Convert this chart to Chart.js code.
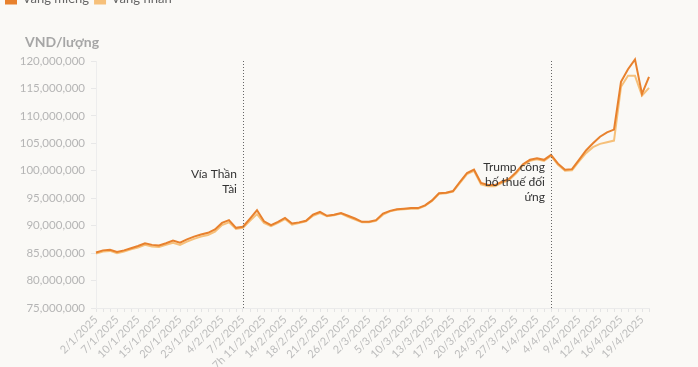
<!DOCTYPE html>
<html>
<head>
<meta charset="utf-8">
<script src="https://cdn.jsdelivr.net/npm/chart.js@4"></script>
<style>
html,body{margin:0;padding:0;background:#faf9f6;overflow:hidden}
#wrap{position:relative;width:698px;height:381px;margin-top:-14px}
</style>
</head>
<body>
<div id="wrap"><canvas id="gold"></canvas></div>
<script>
// ngày giao dịch (nhãn trục x)
var dates = ['2/1/2025','3/1/2025','6/1/2025','7/1/2025','8/1/2025','9/1/2025','10/1/2025','13/1/2025','14/1/2025','15/1/2025',
  '16/1/2025','17/1/2025','20/1/2025','21/1/2025','22/1/2025','23/1/2025','24/1/2025','3/2/2025','4/2/2025','5/2/2025',
  '6/2/2025','7/2/2025','8/2/2025','10/2/2025','7h 11/2/2025','12/2/2025','13/2/2025','14/2/2025','15/2/2025','17/2/2025',
  '18/2/2025','19/2/2025','20/2/2025','21/2/2025','24/2/2025','25/2/2025','26/2/2025','27/2/2025','28/2/2025','2/3/2025',
  '3/3/2025','4/3/2025','5/3/2025','6/3/2025','7/3/2025','10/3/2025','11/3/2025','12/3/2025','13/3/2025','14/3/2025',
  '15/3/2025','17/3/2025','18/3/2025','19/3/2025','20/3/2025','21/3/2025','22/3/2025','24/3/2025','25/3/2025','26/3/2025',
  '27/3/2025','28/3/2025','31/3/2025','1/4/2025','2/4/2025','3/4/2025','4/4/2025','5/4/2025','8/4/2025','9/4/2025',
  '10/4/2025','11/4/2025','12/4/2025','14/4/2025','15/4/2025','16/4/2025','17/4/2025','18/4/2025','19/4/2025','21/4/2025'];

// giá, triệu đồng/lượng
var vangMieng = [85.1,85.5,85.6,85.2,85.5,85.9,86.3,86.8,86.5,86.4,
  86.8,87.3,86.9,87.5,88.0,88.4,88.7,89.3,90.5,91.0,
  89.6,89.8,91.3,92.8,90.8,90.1,90.7,91.4,90.4,90.6,
  90.9,92.0,92.5,91.8,92.0,92.3,91.8,91.3,90.7,90.7,
  91.0,92.2,92.7,93.0,93.1,93.2,93.2,93.7,94.6,95.9,
  96.0,96.3,98.0,99.6,100.2,97.8,97.4,97.4,98.0,98.5,
  99.7,101.2,102.0,102.3,102.0,102.9,101.3,100.2,100.3,102.0,
  103.7,105.0,106.2,107.0,107.5,116.2,118.5,120.3,114.0,117.1];

var vangNhan = [84.9,85.3,85.4,85.0,85.3,85.7,86.0,86.5,86.2,86.1,
  86.5,86.9,86.5,87.1,87.6,88.0,88.3,88.9,90.1,90.6,
  89.4,89.6,90.9,92.1,90.5,89.9,90.5,91.2,90.2,90.5,
  90.8,91.8,92.3,91.7,91.9,92.2,91.6,91.1,90.6,90.6,
  90.9,92.0,92.6,92.9,93.0,93.1,93.1,93.6,94.5,95.8,
  95.9,96.2,97.8,99.4,100.0,97.5,97.2,97.2,97.8,98.3,
  99.5,101.0,101.8,102.1,101.8,102.7,101.1,100.0,100.1,101.7,
  103.2,104.3,104.9,105.2,105.5,115.3,117.3,117.3,113.7,115.1];

var seriesNames = ['Vàng miếng','Vàng nhẫn'];
var yMin = 75000000, yMax = 120000000, yStep = 5000000;

// các mốc sự kiện
var eventIndex = [21, 65];
var eventText = [['Vía Thần','Tài'], ['Trump công','bố thuế đối','ứng']];
var eventTop = [113, 106];

var ctx = document.getElementById('gold').getContext('2d');

var marks = {
  id: 'marks',
  beforeDraw: function(chart){
    var c = chart.ctx;
    c.save();
    c.fillStyle = '#faf9f6';
    c.fillRect(0, 0, chart.width, chart.height);
    c.restore();
  },
  afterDatasetsDraw: function(chart){
    var c = chart.ctx, a = chart.chartArea, xs = chart.scales.x;
    c.save();
    // đường chấm dọc
    c.strokeStyle = '#666';
    c.lineWidth = 1;
    c.setLineDash([1, 2]);
    eventIndex.forEach(function(idx){
      var x = Math.round(xs.getPixelForValue(idx)) + 0.5;
      c.beginPath();
      c.moveTo(x, a.top);
      c.lineTo(x, a.bottom);
      c.stroke();
    });
    c.setLineDash([]);
    c.font = '12px Lato';
    c.fillStyle = '#333';
    c.textAlign = 'right';
    c.textBaseline = 'middle';
    eventIndex.forEach(function(idx, k){
      var x = xs.getPixelForValue(idx) - 6;
      eventText[k].forEach(function(t, j){
        c.fillText(t, x, a.top + eventTop[k] + j * 15);
      });
    });
    // tên trục y
    c.font = 'bold 14px Lato';
    c.fillStyle = '#a6a6a6';
    c.textAlign = 'left';
    c.fillText('VND/lượng', 25, a.top - 19);
    c.restore();
  }
};

var goldChart = new Chart(ctx, {
  type: 'line',
  data: {
    labels: dates,
    datasets: [{
      label: seriesNames[0],
      data: vangMieng.map(function(v){ return v * 1000000; }),
      borderColor: '#e8812d',
      backgroundColor: '#e8812d',
      borderWidth: 2,
      pointRadius: 0,
      tension: 0,
      clip: false,
      order: 1
    }, {
      label: seriesNames[1],
      data: vangNhan.map(function(v){ return v * 1000000; }),
      borderColor: '#f6c07a',
      backgroundColor: '#f6c07a',
      borderWidth: 2,
      pointRadius: 0,
      tension: 0,
      clip: false,
      order: 2
    }]
  },
  options: {
    responsive: true,
    maintainAspectRatio: false,
    animation: false,
    layout: { padding: { left: 0, right: 49, top: 0, bottom: 0 } },
    plugins: {
      legend: {
        align: 'start',
        weight: 3000,
        labels: {
          boxWidth: 10,
          boxHeight: 10,
          padding: 6,
          color: '#666',
          font: { family: 'Lato', size: 13 }
        }
      },
      // chỉ để chừa khoảng trống cho tên trục y
      title: {
        display: true,
        text: 'VND/lượng',
        color: 'rgba(0,0,0,0)',
        font: { family: 'Lato', size: 15, weight: 'bold' },
        padding: { top: 16, bottom: 12 }
      },
      tooltip: { enabled: false }
    },
    scales: {
      x: {
        grid: { drawOnChartArea: false, color: '#e4e4e4', tickLength: 4 },
        border: { color: '#ebebeb' },
        ticks: {
          autoSkip: false,
          minRotation: 45,
          maxRotation: 45,
          padding: 1,
          color: '#bdbdbd',
          font: { family: 'Lato', size: 11 },
          callback: function(v, i){ return i % 3 === 0 ? dates[i] : ''; }
        },
        afterFit: function(s){ s.height = 59; }
      },
      y: {
        min: yMin,
        max: yMax,
        grid: { drawOnChartArea: false, color: '#e8e8e8', tickLength: 5 },
        border: { color: '#ededed' },
        ticks: {
          stepSize: yStep,
          padding: 6,
          color: '#b5b5b5',
          font: { family: 'Lato', size: 11.5 },
          callback: function(v){ return v.toLocaleString('en-US'); }
        },
        afterFit: function(s){ s.width = 96; }
      }
    }
  },
  plugins: [marks]
});
</script>
</body>
</html>
